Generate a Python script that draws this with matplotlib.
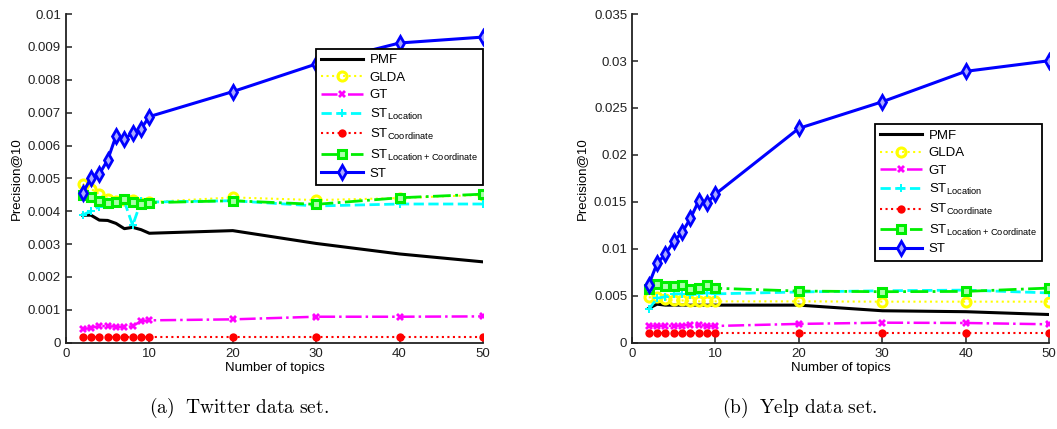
import matplotlib
matplotlib.use("Agg")
import matplotlib.pyplot as plt

plt.rcParams['font.family'] = ['Liberation Sans', 'DejaVu Sans']

topics = [2, 3, 4, 5, 6, 7, 8, 9, 10, 20, 30, 40, 50]

# Twitter data set
tw_pmf = [0.00388, 0.00388, 0.00373, 0.00372, 0.00363, 0.00347, 0.00351, 0.00344, 0.00333,
          0.00341, 0.00302, 0.00270, 0.00246]
tw_glda = [0.00483, 0.00468, 0.00452, 0.00438, 0.00432, 0.00435, 0.00433, 0.00425, 0.00428,
           0.00442, 0.00434, 0.00440, 0.00450]
tw_gt = [0.00041, 0.00045, 0.00051, 0.00050, 0.00049, 0.00047, 0.00050, 0.00066, 0.00068,
         0.00071, 0.00079, 0.00079, 0.00080]
tw_st_loc = [0.00389, 0.00400, 0.00414, 0.00422, 0.00430, 0.00430, 0.00357, 0.00430, 0.00428,
             0.00432, 0.00416, 0.00422, 0.00422]
tw_st_coord = [0.00016] * 13
tw_st_loccoord = [0.00449, 0.00442, 0.00432, 0.00424, 0.00429, 0.00436, 0.00428, 0.00422, 0.00426,
                  0.00432, 0.00421, 0.00441, 0.00452]
tw_st = [0.00456, 0.00500, 0.00513, 0.00556, 0.00629, 0.00619, 0.00639, 0.00651, 0.00688,
         0.00764, 0.00848, 0.00912, 0.00930]

# Yelp data set
yp_pmf = [0.00366, 0.00410, 0.00400, 0.00400, 0.00400, 0.00400, 0.00400, 0.00400, 0.00400,
          0.00400, 0.00340, 0.00330, 0.00300]
yp_glda = [0.00483, 0.00483, 0.00460, 0.00450, 0.00450, 0.00440, 0.00440, 0.00440, 0.00440,
           0.00440, 0.00437, 0.00437, 0.00437]
yp_gt = [0.00178, 0.00180, 0.00180, 0.00180, 0.00182, 0.00190, 0.00190, 0.00178, 0.00178,
         0.00200, 0.00213, 0.00210, 0.00196]
yp_st_loc = [0.00355, 0.00473, 0.00490, 0.00520, 0.00520, 0.00510, 0.00520, 0.00530, 0.00520,
             0.00540, 0.00553, 0.00560, 0.00530]
yp_st_coord = [0.00100] * 13
yp_st_loccoord = [0.00575, 0.00622, 0.00607, 0.00600, 0.00614, 0.00570, 0.00580, 0.00610, 0.00580,
                  0.00550, 0.00543, 0.00546, 0.00582]
yp_st = [0.00618, 0.00845, 0.00944, 0.01080, 0.01175, 0.01324, 0.01512, 0.01490, 0.01583,
         0.02283, 0.02566, 0.02890, 0.03003]

labels = ['PMF', 'GLDA', 'GT',
          r'ST$_{\mathregular{Location}}$',
          r'ST$_{\mathregular{Coordinate}}$',
          r'ST$_{\mathregular{Location+Coordinate}}$',
          'ST']

tw_yticks = [0, 0.001, 0.002, 0.003, 0.004, 0.005, 0.006, 0.007, 0.008, 0.009, 0.01]
tw_yticklabels = ['0', '0.001', '0.002', '0.003', '0.004', '0.005', '0.006', '0.007',
                  '0.008', '0.009', '0.01']
yp_yticks = [0, 0.005, 0.01, 0.015, 0.02, 0.025, 0.03, 0.035]
yp_yticklabels = ['0', '0.005', '0.01', '0.015', '0.02', '0.025', '0.03', '0.035']
xticks = [0, 10, 20, 30, 40, 50]

captions = [r'$\mathrm{(a)\ \ Twitter\ data\ set.}$', r'$\mathrm{(b)\ \ Yelp\ data\ set.}$']

styles = [
    dict(color='black', ls='-', lw=2.2, marker=None),
    dict(color='#ffff00', ls=':', lw=1.5, marker='o', ms=6.5, mfc='none', mew=2.2),
    dict(color='#ff00ff', ls='-.', lw=1.8, marker='X', ms=5.5, mew=0),
    dict(color='#00ffff', ls='--', lw=2.0, marker='P', ms=6, mew=0),
    dict(color='#ff0000', ls=':', lw=1.5, marker='o', ms=6, mew=0),
    dict(color='#00ee00', ls='-.', lw=2.0, marker='s', ms=5.5, mfc='#aaffaa', mec='#00ee00', mew=2.2),
    dict(color='#0000ff', ls='-', lw=2.2, marker='d', ms=7, mfc='#aaaaff', mew=2.0),
]


def draw_panel(ax, series, yticks, yticklabels, legend_anchor):
    handles = []
    for vals, st, lab in zip(series, styles, labels):
        h, = ax.plot(topics, vals, label=lab, **st)
        handles.append(h)
    ax.set_xlim(0, 50)
    ax.set_ylim(yticks[0], yticks[-1])
    ax.set_xticks(xticks)
    ax.set_yticks(yticks)
    ax.set_yticklabels(yticklabels)
    ax.spines['top'].set_visible(False)
    ax.spines['right'].set_visible(False)
    for s in ('left', 'bottom'):
        ax.spines[s].set_linewidth(1.3)
        ax.spines[s].set_color('#222222')
    ax.tick_params(direction='in', length=4, width=1.1, labelsize=9.5, colors='#222222')
    ax.set_xlabel('Number of topics', fontsize=9.5, labelpad=2)
    ax.set_ylabel('Precision@10', fontsize=9.5, labelpad=4)
    leg = ax.legend(handles=handles, loc='upper right', bbox_to_anchor=legend_anchor,
                    fontsize=9.5, frameon=True, fancybox=False, framealpha=1,
                    edgecolor='black', handlelength=3.2, handletextpad=0.5,
                    labelspacing=0.4, borderpad=0.4, borderaxespad=0)
    leg.get_frame().set_linewidth(1.3)
    return leg


fig = plt.figure(figsize=(10.57, 4.29), dpi=100)
ax1 = fig.add_axes([0.0624, 0.2012, 0.3945, 0.766])
ax2 = fig.add_axes([0.598, 0.2012, 0.3945, 0.766])

draw_panel(ax1, [tw_pmf, tw_glda, tw_gt, tw_st_loc, tw_st_coord, tw_st_loccoord, tw_st],
           tw_yticks, tw_yticklabels, (1.0, 0.894))
draw_panel(ax2, [yp_pmf, yp_glda, yp_gt, yp_st_loc, yp_st_coord, yp_st_loccoord, yp_st],
           yp_yticks, yp_yticklabels, (0.983, 0.665))

fig.text(239 / 1057, 1 - 408 / 429, captions[0], ha='center', va='center',
         fontsize=14, math_fontfamily='cm')
fig.text(800 / 1057, 1 - 408 / 429, captions[1], ha='center', va='center',
         fontsize=14, math_fontfamily='cm')

fig.savefig('out.png', dpi=100)
